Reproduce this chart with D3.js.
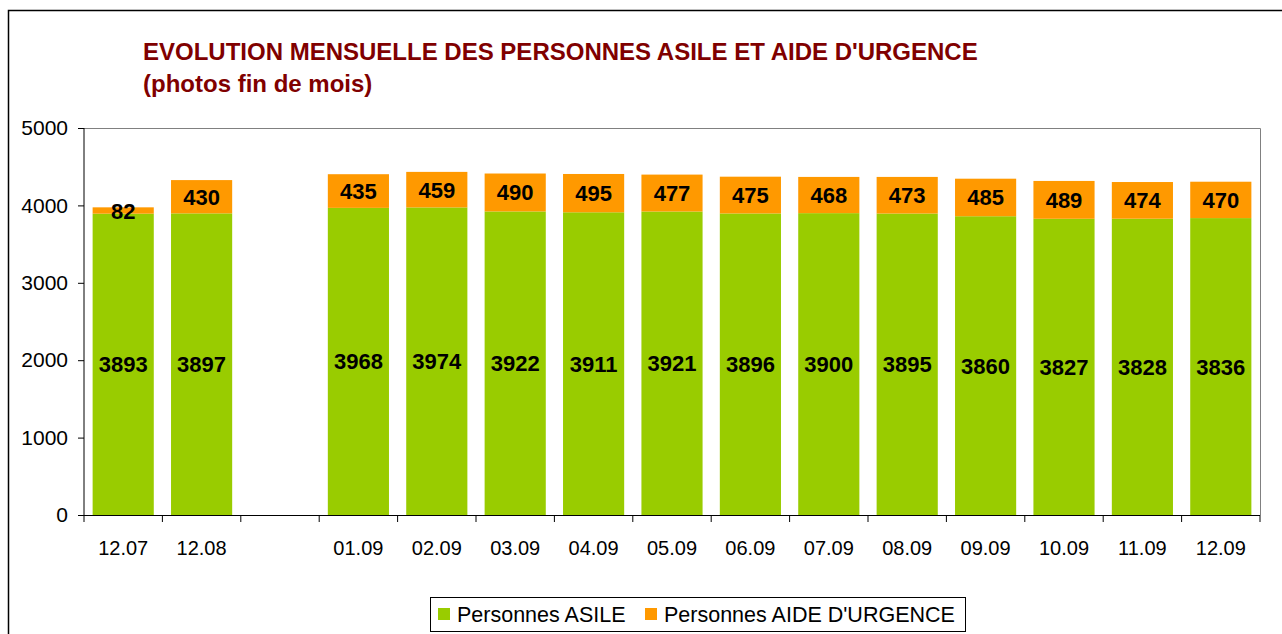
<!DOCTYPE html>
<html>
<head>
<meta charset="utf-8">
<script src="https://cdn.jsdelivr.net/npm/d3@7"></script>
<style>
  body { margin: 0; background: #fff; }
  text { font-family: "Liberation Sans", Arial, sans-serif; }
</style>
</head>
<body>
<script>
// donnees
const mois = ["12.07", "12.08", "", "01.09", "02.09", "03.09", "04.09", "05.09", "06.09", "07.09", "08.09", "09.09", "10.09", "11.09", "12.09"];
const asile = [3893, 3897, null, 3968, 3974, 3922, 3911, 3921, 3896, 3900, 3895, 3860, 3827, 3828, 3836];
const urgence = [82, 430, null, 435, 459, 490, 495, 477, 475, 468, 473, 485, 489, 474, 470];
const yTicks = [0, 1000, 2000, 3000, 4000, 5000];
const series = ["Personnes ASILE", "Personnes AIDE D'URGENCE"];

const [w, h] = [1282, 634];
const plot = { left: 84, right: 1260, top: 128, bottom: 515 };
const couleurs = ["#99CC00", "#FF9900"];

const svg = d3.select("body").append("svg")
    .attr("width", w)
    .attr("height", h);

// cadre exterieur (coupe en bas et a droite)
svg.append("rect")
    .attr("x", 8.5).attr("y", 10.5)
    .attr("width", 1290).attr("height", 650)
    .attr("fill", "none").attr("stroke", "#000").attr("stroke-width", 1.5);

// titre
svg.append("text")
    .attr("x", 143).attr("y", 60)
    .attr("fill", "#800000").attr("font-size", 24).attr("font-weight", "bold")
    .text("EVOLUTION MENSUELLE DES PERSONNES ASILE ET AIDE D'URGENCE");
svg.append("text")
    .attr("x", 143).attr("y", 92)
    .attr("fill", "#800000").attr("font-size", 24).attr("font-weight", "bold")
    .text("(photos fin de mois)");

// echelles
const xScale = d3.scaleBand()
    .domain(d3.range(mois.length))
    .range([plot.left, plot.right])
    .paddingInner(0.22).paddingOuter(0.11);

const yScale = d3.scaleLinear()
    .domain([0, 5000])
    .range([plot.bottom, plot.top]);

// bord de la zone de trace
svg.append("path")
    .attr("d", `M${plot.left},${plot.top + 0.5}H${plot.right + 0.5}V${plot.bottom}`)
    .attr("fill", "none").attr("stroke", "#808080").attr("stroke-width", 1);

// barres empilees
const donnees = mois.map((m, i) => ({ i, a: asile[i], u: urgence[i] })).filter(d => d.a != null);

svg.selectAll("rect.asile")
    .data(donnees).enter().append("rect")
    .attr("class", "asile")
    .attr("x", d => xScale(d.i))
    .attr("width", xScale.bandwidth())
    .attr("y", d => yScale(d.a))
    .attr("height", d => yScale(0) - yScale(d.a))
    .attr("fill", couleurs[0]);

svg.selectAll("rect.urgence")
    .data(donnees).enter().append("rect")
    .attr("class", "urgence")
    .attr("x", d => xScale(d.i))
    .attr("width", xScale.bandwidth())
    .attr("y", d => yScale(d.a + d.u))
    .attr("height", d => yScale(d.a) - yScale(d.a + d.u))
    .attr("fill", couleurs[1]);

// etiquettes
svg.selectAll("text.lab-a")
    .data(donnees).enter().append("text")
    .attr("x", d => xScale(d.i) + xScale.bandwidth() / 2)
    .attr("y", d => yScale(d.a / 2) + 8)
    .attr("text-anchor", "middle").attr("font-size", 22).attr("font-weight", "bold")
    .text(d => d.a);

svg.selectAll("text.lab-u")
    .data(donnees).enter().append("text")
    .attr("x", d => xScale(d.i) + xScale.bandwidth() / 2)
    .attr("y", d => yScale(d.a + d.u / 2) + 8)
    .attr("text-anchor", "middle").attr("font-size", 22).attr("font-weight", "bold")
    .text(d => d.u);

// axe Y
const yAxis = d3.axisLeft(yScale).tickValues(yTicks).tickSize(6).tickPadding(10).tickFormat(d3.format("d"));
svg.append("g")
    .attr("transform", `translate(${plot.left},0)`)
    .call(yAxis)
    .call(g => g.selectAll("text").attr("font-size", 21).attr("fill", "#000").attr("font-family", "'Liberation Sans', Arial, sans-serif"))
    .call(g => g.select(".domain").remove())
    .call(g => g.append("line").attr("x1", 0).attr("x2", 0).attr("y1", plot.top).attr("y2", plot.bottom).attr("stroke", "#000"));

// axe X : graduations entre les categories
const xTickPos = d3.range(mois.length + 1).map(k => plot.left + k * (plot.right - plot.left) / mois.length);
const gx = svg.append("g");
gx.append("line")
    .attr("x1", plot.left).attr("x2", plot.right)
    .attr("y1", plot.bottom + 0.5).attr("y2", plot.bottom + 0.5)
    .attr("stroke", "#000");
gx.selectAll("line.tick")
    .data(xTickPos).enter().append("line")
    .attr("x1", d => d).attr("x2", d => d)
    .attr("y1", plot.bottom).attr("y2", plot.bottom + 7)
    .attr("stroke", "#000");
gx.selectAll("text")
    .data(mois).enter().append("text")
    .attr("x", (d, i) => xScale(i) + xScale.bandwidth() / 2)
    .attr("y", 555)
    .attr("text-anchor", "middle").attr("font-size", 20)
    .text(d => d);

// legende
const leg = svg.append("g");
leg.append("rect")
    .attr("x", 430.5).attr("y", 597.5).attr("width", 535).attr("height", 34)
    .attr("fill", "#fff").attr("stroke", "#000").attr("stroke-width", 1);
const legX = [438, 645];
series.forEach((s, i) => {
    leg.append("rect")
        .attr("x", legX[i]).attr("y", 608).attr("width", 12).attr("height", 12)
        .attr("fill", couleurs[i]);
    leg.append("text")
        .attr("x", legX[i] + 19).attr("y", 622)
        .attr("font-size", 21.5)
        .text(s);
});
</script>
</body>
</html>
